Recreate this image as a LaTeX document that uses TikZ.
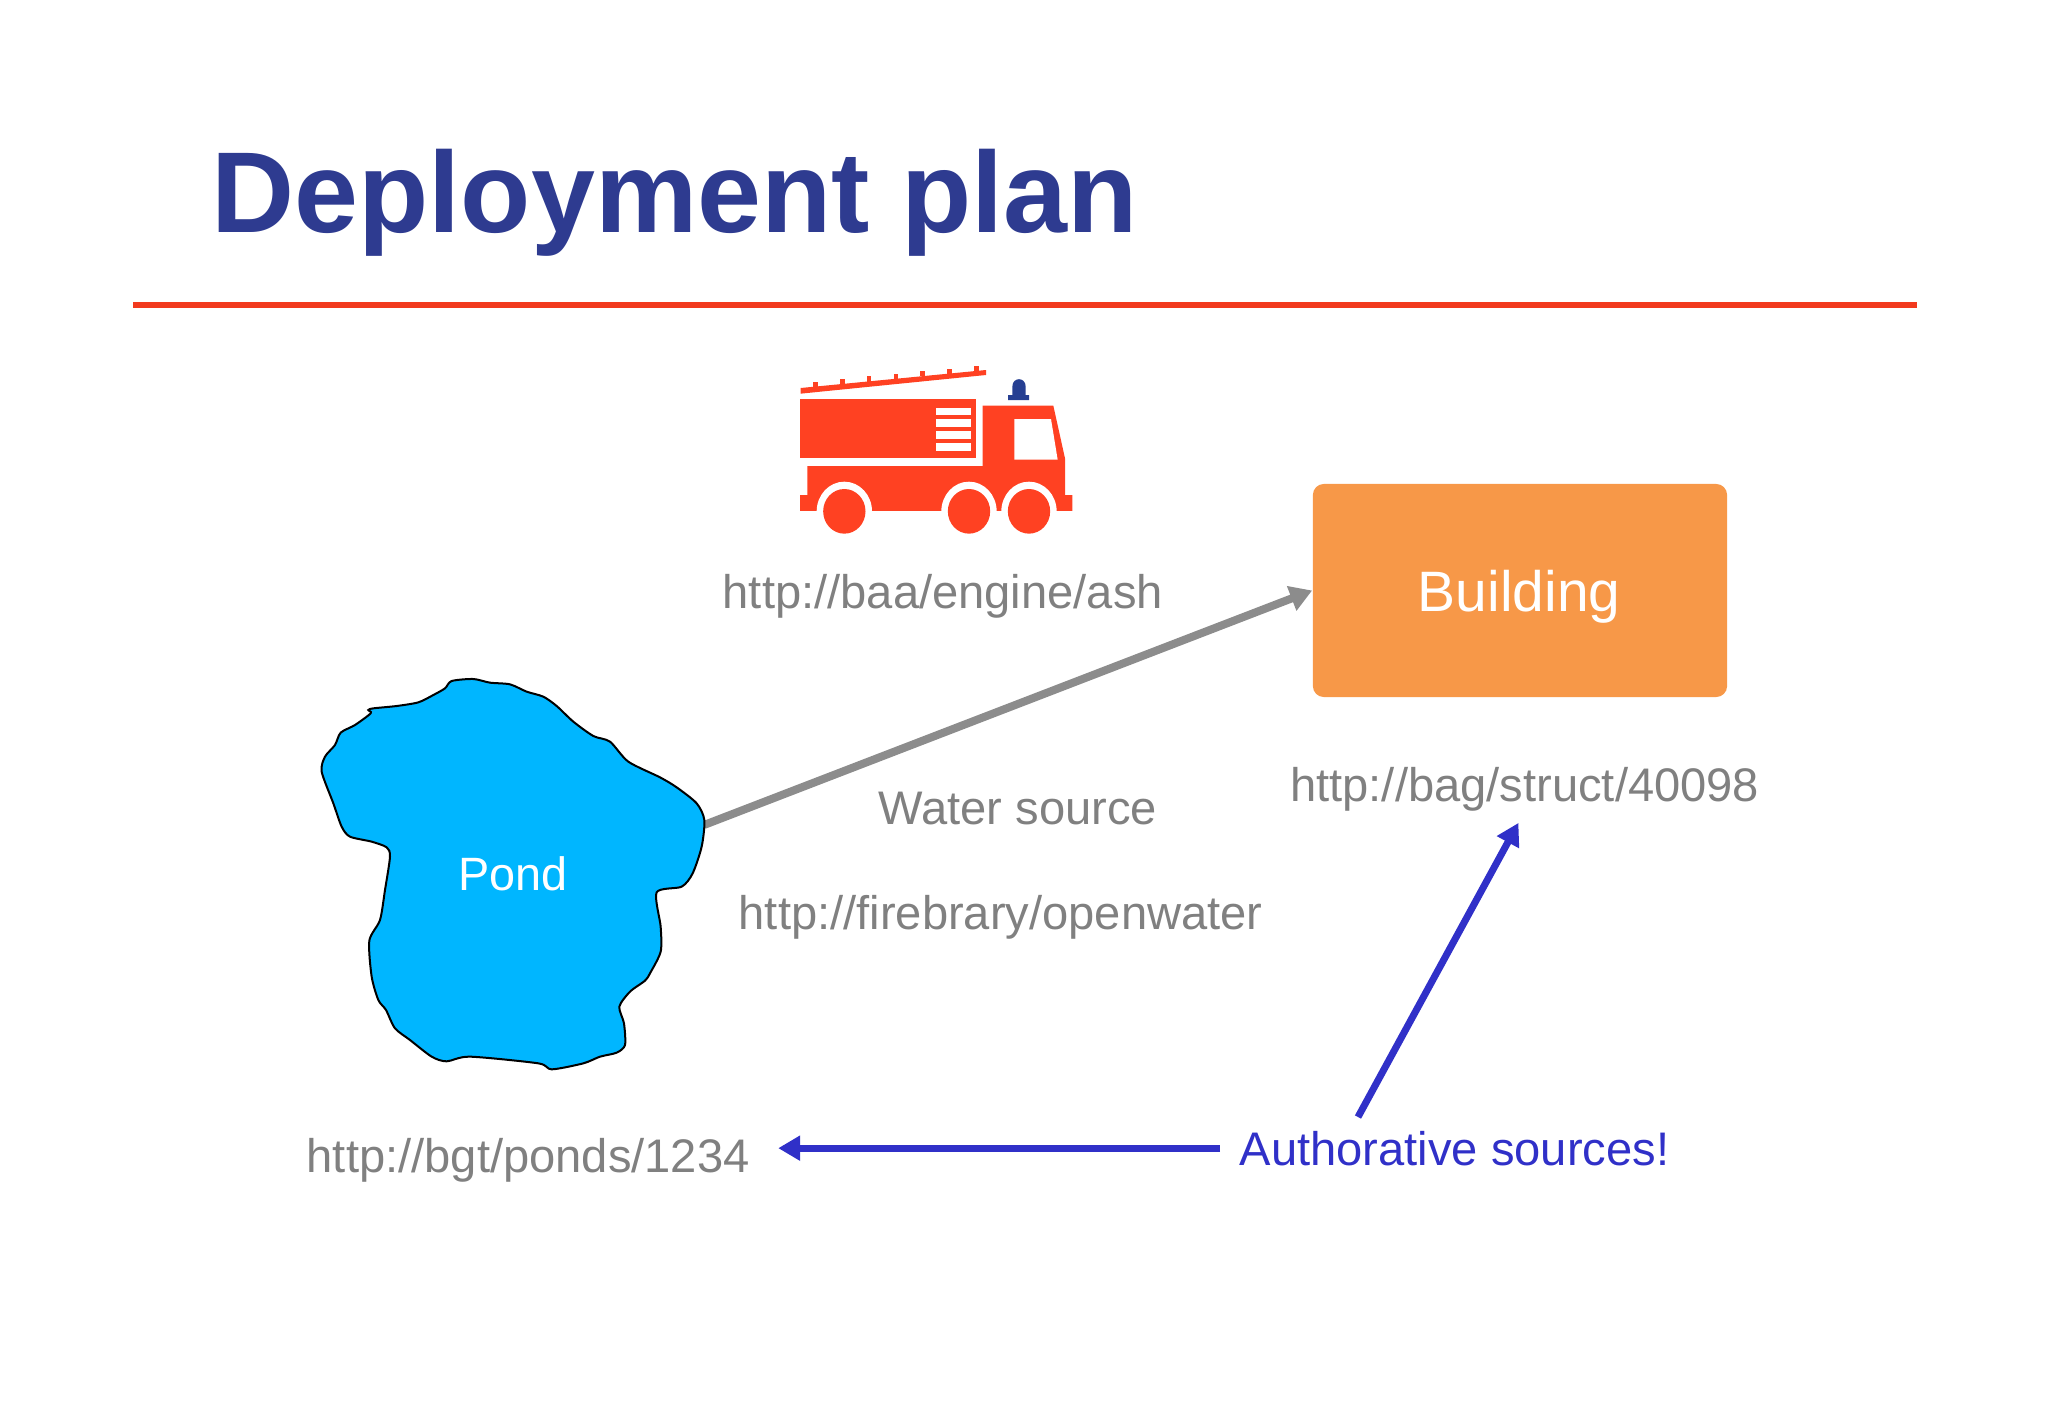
\documentclass[tikz,border=0pt]{standalone}
\usepackage{fontspec}
\setmainfont{Liberation Sans}
\usepackage{xcolor}
\usetikzlibrary{positioning,calc,arrows.meta}
\definecolor{titleblue}{HTML}{2E3B90}
\definecolor{rulered}{HTML}{F23A1E}
\definecolor{truckred}{HTML}{FF4122}
\definecolor{beaconblue}{HTML}{263F92}
\definecolor{buildorange}{HTML}{F79848}
\definecolor{pondblue}{HTML}{00B6FF}
\definecolor{urlgray}{HTML}{808080}
\definecolor{arrowgray}{HTML}{8C8C8C}
\definecolor{authblue}{HTML}{3030C8}
\tikzset{
    urltext/.style={text=urlgray, inner sep=0pt, anchor=base west, font=\fontsize{13.4pt}{16pt}\selectfont},
    authtext/.style={text=authblue, inner sep=0pt, anchor=base west, font=\fontsize{13.4pt}{16pt}\selectfont},
    whitetext/.style={text=white, inner sep=0pt, anchor=base west},
    grayarrow/.style={-{Triangle[length=0.22cm,width=0.25cm]}, line width=0.08cm, arrowgray},
    bluearrow/.style={-{Triangle[length=0.22cm,width=0.24cm]}, line width=0.07cm, authblue},
    truckfill/.style={fill=truckred, draw=none},
    cutout/.style={fill=white, draw=none}
}
\begin{document}
\begin{tikzpicture}[x=0.01cm,y=-0.01cm]
        \useasboundingbox (0,0) rectangle (2048,1418);
        % heading
        \node[text=titleblue, inner sep=0pt, anchor=base west, font=\fontsize{32.7pt}{38pt}\selectfont\bfseries] (title) at (211,232) {Deployment plan};
        \draw[rulered, line width=0.06cm] (133,304.5) -- (1917,304.5);
        % fire engine
        \begin{scope}[shift={(760,340)},scale=1/3]
            \fill[truckfill] (122,144) -- (678,90) -- (678,105) -- (122,161) -- cycle;
            \foreach \rungx/\rungy in {167/141,247/133,327/125,408/117,488/109,568/102,650/94}
                \fill[truckfill] (\rungx-7,\rungy) rectangle (\rungx+7,\rungy-16);
            \fill[truckfill] (120,177) rectangle (647,355);
            \foreach \slaty in {203,238,274,309}
                \fill[cutout] (528,\slaty) rectangle (633,\slaty+23);
            \fill[truckfill] (142,378) -- (668,378) -- (668,197) -- (880,197) -- (915,355) -- (915,465) -- (937,465) -- (937,514) -- (120,514) -- (120,465) -- (142,465) -- cycle;
            \fill[cutout] (763,237) -- (873,237) -- (893,359) -- (763,359) -- cycle;
            \foreach \wheelx in {253,627,807}
                \fill[cutout] (\wheelx,514) ellipse [x radius=83, y radius=89];
            \fill[cutout] (100,514) rectangle (960,600);
            \foreach \wheelx in {253,627,807}
                \fill[truckfill] (\wheelx,514) ellipse [x radius=63.5, y radius=67];
            \fill[beaconblue] (744,180) -- (807,180) -- (807,165) -- (797,165) -- (797,140) .. controls (797,110) and (757,110) .. (757,140) -- (757,165) -- (744,165) -- cycle;
        \end{scope}
        \node[urltext] (engineurl) at (722,608) {http://baa/engine/ash};
        % building
        \node[fill=buildorange, rounded corners=0.11cm, minimum width=4.14cm, minimum height=2.13cm, inner sep=0pt] (building) at (1520,590.5) {};
        \node[whitetext, font=\fontsize{16.2pt}{20pt}\selectfont] (buildinglabel) at (1417,611) {Building};
        \node[urltext] (bagurl) at (1289.5,801) {http://bag/struct/40098};
        % pond
        \coordinate (pondtip) at (704,825);
        \draw[grayarrow] (pondtip) -- (building.west);
        \begin{scope}[shift={(300,660)},scale=1/3]
            \draw[fill=pondblue, line width=0.02cm] plot[smooth cycle, tension=0.45] coordinates {
                (65,335) (75,290) (105,255) (122,218) (165,195) (212,160) (205,150) (220,145)
                (290,138) (355,127) (400,105) (435,85) (455,63) (520,57) (570,68) (630,73)
                (680,95) (730,110) (770,138) (820,185) (880,228) (930,245) (985,305) (1080,352)
                (1130,382) (1190,430) (1213,480) (1205,560) (1178,640) (1145,680) (1070,697)
                (1082,800) (1082,875) (1050,940) (1035,962) (990,995) (958,1040) (972,1090)
                (975,1155) (950,1178) (900,1190) (850,1210) (755,1228) (715,1210) (510,1190)
                (440,1204) (395,1190) (330,1140) (285,1105) (258,1050) (235,1020) (215,950)
                (208,842) (240,780) (255,690) (270,590) (260,562) (215,545) (150,530) (125,500) (100,430)};
        \end{scope}
        \node[whitetext, font=\fontsize{13.3pt}{16pt}\selectfont] (pond) at (458,890) {Pond};
        \node[urltext] (watersource) at (878,824) {Water source};
        \node[urltext] (waterurl) at (738,929) {http://firebrary/openwater};
        \node[urltext] (pondurl) at (306,1172) {http://bgt/ponds/1234};
        % sources
        \node[authtext] (authsrc) at (1239,1165) {Authorative sources!};
        \coordinate (authfoot) at (1358,1117);
        \draw[bluearrow, shorten <=0.19cm, shorten >=0.28cm] (authsrc.west) -- (authsrc.west -| pondurl.east);
        \draw[bluearrow, shorten >=0.13cm] (authfoot) -- (bagurl.south);
    \end{tikzpicture}
\end{document}
